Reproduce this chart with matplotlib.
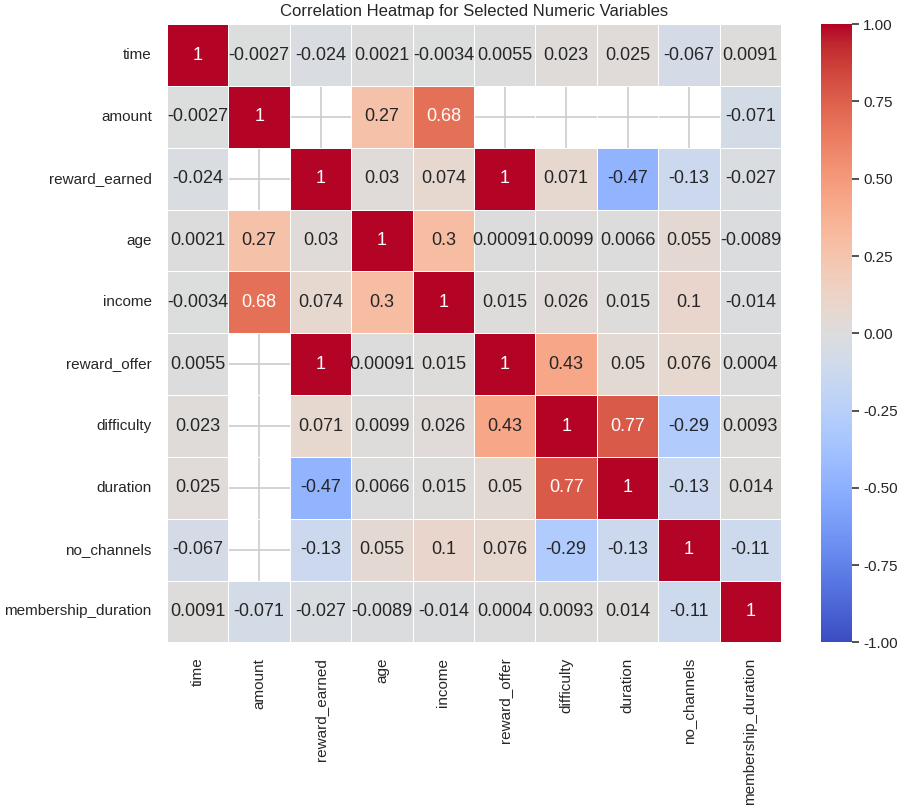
import numpy as np
import pandas as pd
import matplotlib
matplotlib.use("Agg")
import matplotlib.pyplot as plt
import seaborn as sns

# 变量名
labels = ["time", "amount", "reward_earned", "age", "income",
          "reward_offer", "difficulty", "duration", "no_channels",
          "membership_duration"]

# 相关系数矩阵 (nan = 缺失)
nan = np.nan
row_time = [1, -0.0027, -0.024, 0.0021, -0.0034, 0.0055, 0.023, 0.025, -0.067, 0.0091]
row_amount = [-0.0027, 1, nan, 0.27, 0.68, nan, nan, nan, nan, -0.071]
row_reward_earned = [-0.024, nan, 1, 0.03, 0.074, 1, 0.071, -0.47, -0.13, -0.027]
row_age = [0.0021, 0.27, 0.03, 1, 0.3, 0.00091, 0.0099, 0.0066, 0.055, -0.0089]
row_income = [-0.0034, 0.68, 0.074, 0.3, 1, 0.015, 0.026, 0.015, 0.1, -0.014]
row_reward_offer = [0.0055, nan, 1, 0.00091, 0.015, 1, 0.43, 0.05, 0.076, 0.0004]
row_difficulty = [0.023, nan, 0.071, 0.0099, 0.026, 0.43, 1, 0.77, -0.29, 0.0093]
row_duration = [0.025, nan, -0.47, 0.0066, 0.015, 0.05, 0.77, 1, -0.13, 0.014]
row_no_channels = [-0.067, nan, -0.13, 0.055, 0.1, 0.076, -0.29, -0.13, 1, -0.11]
row_membership = [0.0091, -0.071, -0.027, -0.0089, -0.014, 0.0004, 0.0093, 0.014, -0.11, 1]

corr = pd.DataFrame([row_time, row_amount, row_reward_earned, row_age, row_income,
                     row_reward_offer, row_difficulty, row_duration, row_no_channels,
                     row_membership], index=labels, columns=labels)

sns.set_theme(style="whitegrid")
plt.rcParams['font.family'] = ['Liberation Sans', 'DejaVu Sans']

fig = plt.figure(figsize=(9.03, 8.06), dpi=100)
ax = fig.add_axes([0.185, 0.203, 0.68, 0.767])
cax = fig.add_axes([0.909, 0.203, 0.034, 0.767])

sns.heatmap(corr, annot=True, cmap="coolwarm", vmin=-1, vmax=1,
            linewidths=0.5, linecolor="white", ax=ax, cbar_ax=cax,
            annot_kws={"size": 13})
ax.grid(True, color="#cccccc", linewidth=1.2)
ax.set_axisbelow(True)
ax.set_title("Correlation Heatmap for Selected Numeric Variables", fontsize=12)
ax.tick_params(axis="both", labelsize=11, length=0, pad=11)
ax.set_xticklabels(labels, rotation=90)
ax.set_yticklabels(labels, rotation=0)
cax.tick_params(labelsize=11, length=5, width=1.2, color="#333333")
cax.yaxis.set_major_locator(matplotlib.ticker.FixedLocator([-1, -0.75, -0.5, -0.25, 0, 0.25, 0.5, 0.75, 1]))
cax.yaxis.set_major_formatter(matplotlib.ticker.FormatStrFormatter("%.2f"))
cax.set_frame_on(False)

fig.savefig("out.png", dpi=100)
